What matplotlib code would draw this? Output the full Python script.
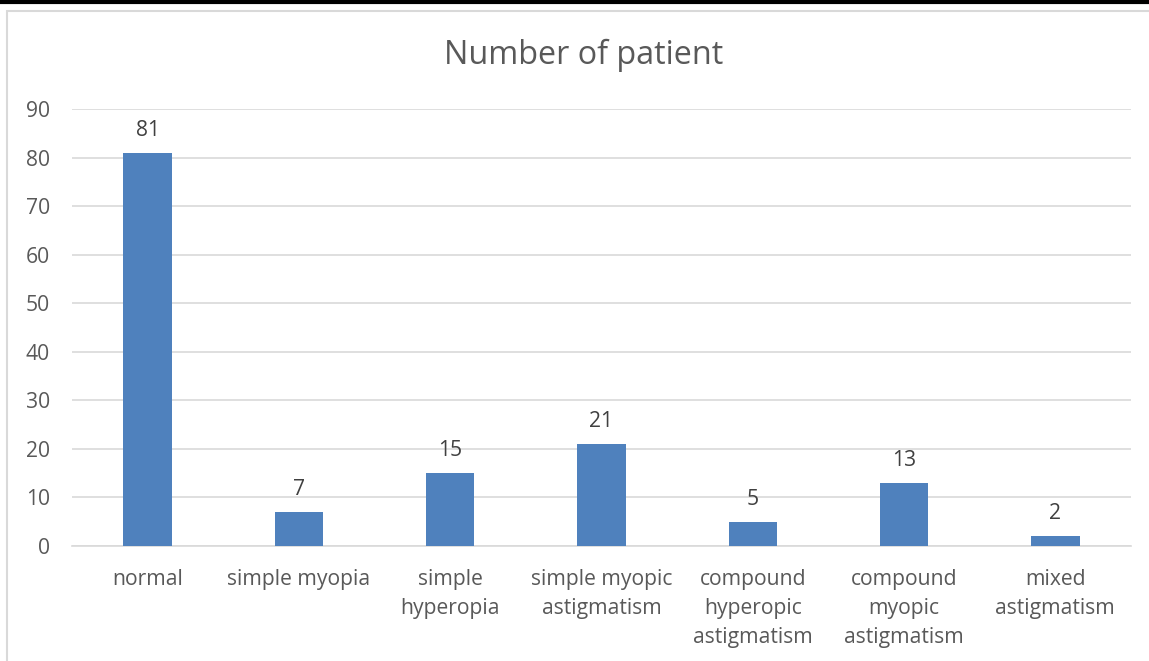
import matplotlib.pyplot as plt
from matplotlib.patches import Rectangle
from matplotlib.lines import Line2D

categories = ["normal", "simple myopia", "simple\nhyperopia", "simple myopic\nastigmatism",
              "compound\nhyperopic\nastigmatism", "compound\nmyopic\nastigmatism", "mixed\nastigmatism"]
values = [81, 7, 15, 21, 5, 13, 2]
yticks = [0, 10, 20, 30, 40, 50, 60, 70, 80, 90]

plt.rcParams['font.family'] = ['Open Sans', 'DejaVu Sans']
txt = '#595959'
fs = 15.2

fig = plt.figure(figsize=(11.49, 6.61), dpi=100)
W, H = 1149, 661
# outer border (light grey) and top black line
fig.add_artist(Rectangle((7 / W, -0.1), 1.2, 1 - 11 / H + 0.1, transform=fig.transFigure,
                         fill=False, edgecolor='#D9D9D9', linewidth=1.5))
fig.add_artist(Line2D([0, 1], [1 - 1.5 / H, 1 - 1.5 / H], transform=fig.transFigure,
                      color='black', linewidth=3))

ax = fig.add_axes([72 / W, 1 - 546 / H, (1131 - 72) / W, (546 - 109) / H])
x = range(len(categories))
bars = ax.bar(x, values, width=0.32, color='#4F81BD', zorder=3)
for xi, v in zip(x, values):
    ax.text(xi, v + 2.5, str(v), ha='center', va='bottom', fontsize=fs, color='#404040')

ax.set_xlim(-0.5, len(categories) - 0.5)
ax.set_ylim(0, 90)
ax.set_yticks(yticks)
ax.set_xticks(list(x))
ax.set_xticklabels(categories, fontsize=fs, color=txt, linespacing=1.5, va='top')
ax.tick_params(axis='y', labelsize=fs, labelcolor=txt, length=0, pad=16)
ax.tick_params(axis='x', length=0, pad=16.5)
ax.grid(axis='y', color='#D9D9D9', linewidth=1.2, zorder=0)
for s in ['top', 'right', 'left']:
    ax.spines[s].set_visible(False)
ax.spines['bottom'].set_color('#D9D9D9')
ax.spines['bottom'].set_linewidth(1.2)
ax.set_axisbelow(True)

fig.text(584 / W, 1 - 55 / H, "Number of patient", ha='center', va='center', fontsize=23.3, color=txt)

fig.savefig('out.png', dpi=100)
